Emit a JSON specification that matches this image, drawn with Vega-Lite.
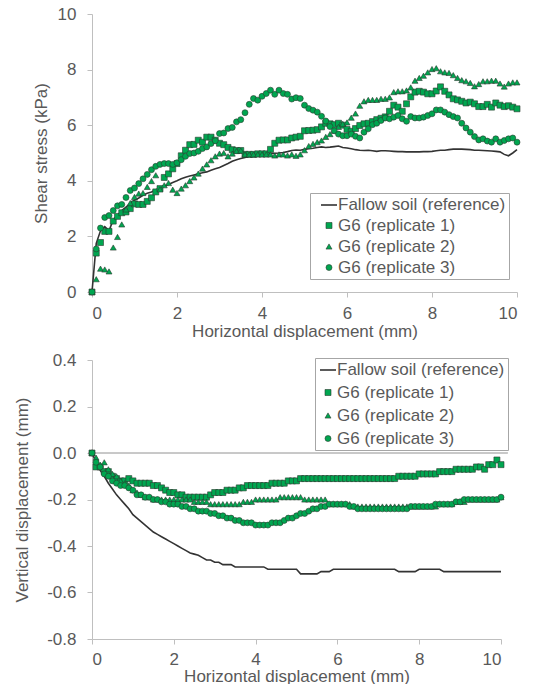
{
  "$schema": "https://vega.github.io/schema/vega-lite/v6.json",
  "padding": {"left": 13, "top": 5, "right": 0, "bottom": 0},
  "spacing": 12,
  "datasets": {
    "top": [
      {"x":0,"f":0,"a":0,"b":0,"c":0},
      {"x":0.1,"f":1.75,"a":1.4,"b":0.46,"c":1.55},
      {"x":0.2,"f":2.2,"a":1.78,"b":0.84,"c":2.3},
      {"x":0.3,"f":2.35,"a":2.18,"b":0.81,"c":2.68},
      {"x":0.4,"f":2.2,"a":2.18,"b":0.74,"c":2.75},
      {"x":0.5,"f":2.6,"a":2.55,"b":1.6,"c":2.93},
      {"x":0.6,"f":2.75,"a":2.72,"b":1.98,"c":3.1},
      {"x":0.7,"f":2.93,"a":2.85,"b":2.43,"c":3.15},
      {"x":0.8,"f":3.05,"a":2.88,"b":2.97,"c":3.4},
      {"x":0.9,"f":3.2,"a":3.0,"b":3.2,"c":3.65},
      {"x":1.0,"f":3.3,"a":3.17,"b":3.42,"c":3.74},
      {"x":1.1,"f":3.38,"a":3.15,"b":3.54,"c":3.9},
      {"x":1.2,"f":3.48,"a":3.15,"b":3.56,"c":4.07},
      {"x":1.3,"f":3.55,"a":3.26,"b":3.78,"c":4.23},
      {"x":1.4,"f":3.6,"a":3.39,"b":3.99,"c":4.4},
      {"x":1.5,"f":3.68,"a":3.6,"b":4.2,"c":4.52},
      {"x":1.6,"f":3.74,"a":3.72,"b":3.69,"c":4.59},
      {"x":1.7,"f":3.8,"a":4.12,"b":3.84,"c":4.62},
      {"x":1.8,"f":3.87,"a":4.25,"b":3.92,"c":4.62},
      {"x":1.9,"f":3.94,"a":4.43,"b":3.68,"c":4.59},
      {"x":2.0,"f":4.0,"a":4.62,"b":3.56,"c":4.65},
      {"x":2.1,"f":4.07,"a":4.9,"b":3.72,"c":4.76},
      {"x":2.2,"f":4.13,"a":5.1,"b":3.84,"c":4.88},
      {"x":2.3,"f":4.17,"a":5.3,"b":3.99,"c":4.98},
      {"x":2.4,"f":4.21,"a":5.31,"b":4.12,"c":5.0},
      {"x":2.5,"f":4.25,"a":5.46,"b":4.26,"c":5.06},
      {"x":2.6,"f":4.29,"a":5.39,"b":4.44,"c":5.16},
      {"x":2.7,"f":4.32,"a":5.57,"b":4.59,"c":5.22},
      {"x":2.8,"f":4.38,"a":5.57,"b":4.74,"c":5.34},
      {"x":2.9,"f":4.43,"a":5.46,"b":4.88,"c":5.44},
      {"x":3.0,"f":4.48,"a":5.35,"b":4.98,"c":5.7},
      {"x":3.1,"f":4.55,"a":5.3,"b":5.0,"c":5.72},
      {"x":3.2,"f":4.62,"a":5.2,"b":4.88,"c":5.88},
      {"x":3.3,"f":4.7,"a":5.12,"b":4.98,"c":5.92},
      {"x":3.4,"f":4.76,"a":5.09,"b":5.07,"c":6.12},
      {"x":3.5,"f":4.8,"a":5.09,"b":5.09,"c":6.2},
      {"x":3.6,"f":4.84,"a":4.95,"b":4.95,"c":6.45},
      {"x":3.7,"f":4.88,"a":4.95,"b":4.95,"c":6.75},
      {"x":3.8,"f":4.92,"a":4.95,"b":4.95,"c":6.96},
      {"x":3.9,"f":4.94,"a":4.97,"b":4.95,"c":6.9},
      {"x":4.0,"f":4.95,"a":4.97,"b":4.95,"c":7.04},
      {"x":4.1,"f":4.96,"a":4.97,"b":4.95,"c":7.14},
      {"x":4.2,"f":4.98,"a":5.13,"b":4.95,"c":7.26},
      {"x":4.3,"f":4.99,"a":5.35,"b":4.91,"c":7.11},
      {"x":4.4,"f":5.0,"a":5.46,"b":4.95,"c":7.26},
      {"x":4.5,"f":5.02,"a":5.47,"b":4.95,"c":7.14},
      {"x":4.6,"f":5.05,"a":5.47,"b":4.91,"c":7.11},
      {"x":4.7,"f":5.09,"a":5.54,"b":4.95,"c":6.94},
      {"x":4.8,"f":5.11,"a":5.57,"b":4.9,"c":6.99},
      {"x":4.9,"f":5.1,"a":5.6,"b":4.95,"c":6.96},
      {"x":5.0,"f":5.13,"a":5.8,"b":5.1,"c":6.72},
      {"x":5.1,"f":5.15,"a":5.81,"b":5.25,"c":6.6},
      {"x":5.2,"f":5.17,"a":5.82,"b":5.33,"c":6.54},
      {"x":5.3,"f":5.2,"a":5.84,"b":5.39,"c":6.47},
      {"x":5.4,"f":5.22,"a":5.94,"b":5.45,"c":6.32},
      {"x":5.5,"f":5.2,"a":6.07,"b":5.58,"c":6.15},
      {"x":5.6,"f":5.21,"a":6.05,"b":5.68,"c":5.95},
      {"x":5.7,"f":5.23,"a":6.02,"b":5.8,"c":5.8},
      {"x":5.8,"f":5.25,"a":6.07,"b":5.94,"c":5.68},
      {"x":5.9,"f":5.2,"a":6.0,"b":6.05,"c":5.62},
      {"x":6.0,"f":5.18,"a":5.85,"b":6.1,"c":5.62},
      {"x":6.1,"f":5.15,"a":5.78,"b":6.27,"c":5.68},
      {"x":6.2,"f":5.12,"a":5.88,"b":6.42,"c":5.6},
      {"x":6.3,"f":5.1,"a":5.99,"b":6.7,"c":5.54},
      {"x":6.4,"f":5.09,"a":6.05,"b":6.86,"c":5.75},
      {"x":6.5,"f":5.1,"a":6.07,"b":6.91,"c":5.87},
      {"x":6.6,"f":5.08,"a":6.13,"b":6.91,"c":6.02},
      {"x":6.7,"f":5.06,"a":6.2,"b":6.91,"c":6.07},
      {"x":6.8,"f":5.08,"a":6.25,"b":6.95,"c":6.17},
      {"x":6.9,"f":5.08,"a":6.3,"b":6.95,"c":6.26},
      {"x":7.0,"f":5.07,"a":6.5,"b":7.0,"c":6.23},
      {"x":7.1,"f":5.06,"a":6.72,"b":7.19,"c":6.29},
      {"x":7.2,"f":5.05,"a":6.65,"b":7.22,"c":6.35},
      {"x":7.3,"f":5.05,"a":6.5,"b":7.22,"c":6.23},
      {"x":7.4,"f":5.04,"a":6.77,"b":7.25,"c":6.14},
      {"x":7.5,"f":5.04,"a":7.02,"b":7.36,"c":6.31},
      {"x":7.6,"f":5.04,"a":7.19,"b":7.6,"c":6.26},
      {"x":7.7,"f":5.04,"a":7.22,"b":7.7,"c":6.26},
      {"x":7.8,"f":5.05,"a":7.19,"b":7.78,"c":6.29},
      {"x":7.9,"f":5.05,"a":7.13,"b":7.9,"c":6.35},
      {"x":8.0,"f":5.06,"a":7.13,"b":8.02,"c":6.41},
      {"x":8.1,"f":5.08,"a":7.23,"b":8.05,"c":6.55},
      {"x":8.2,"f":5.1,"a":7.38,"b":7.94,"c":6.55},
      {"x":8.3,"f":5.1,"a":7.22,"b":7.9,"c":6.47},
      {"x":8.4,"f":5.12,"a":7.09,"b":7.88,"c":6.38},
      {"x":8.5,"f":5.14,"a":6.95,"b":7.8,"c":6.31},
      {"x":8.6,"f":5.14,"a":6.91,"b":7.7,"c":6.26},
      {"x":8.7,"f":5.14,"a":6.86,"b":7.62,"c":6.07},
      {"x":8.8,"f":5.13,"a":6.8,"b":7.58,"c":5.9},
      {"x":8.9,"f":5.12,"a":6.83,"b":7.52,"c":5.75},
      {"x":9.0,"f":5.1,"a":6.77,"b":7.4,"c":5.59},
      {"x":9.1,"f":5.1,"a":6.67,"b":7.48,"c":5.47},
      {"x":9.2,"f":5.09,"a":6.67,"b":7.58,"c":5.51},
      {"x":9.3,"f":5.08,"a":6.75,"b":7.58,"c":5.43},
      {"x":9.4,"f":5.07,"a":6.65,"b":7.6,"c":5.39},
      {"x":9.5,"f":5.06,"a":6.8,"b":7.6,"c":5.51},
      {"x":9.6,"f":5.04,"a":6.72,"b":7.5,"c":5.39},
      {"x":9.7,"f":4.95,"a":6.67,"b":7.39,"c":5.45},
      {"x":9.8,"f":4.9,"a":6.7,"b":7.5,"c":5.51},
      {"x":9.9,"f":5.0,"a":6.65,"b":7.54,"c":5.54},
      {"x":10,"f":5.12,"a":6.59,"b":7.54,"c":5.39}
    ],
    "bottom": [
      {"x":0,"f":0,"a":0,"b":0,"c":0},
      {"x":0.1,"f":-0.04,"a":-0.06,"b":-0.02,"c":-0.04},
      {"x":0.2,"f":-0.075,"a":-0.06,"b":-0.05,"c":-0.06},
      {"x":0.3,"f":-0.1,"a":-0.08,"b":-0.04,"c":-0.09},
      {"x":0.4,"f":-0.13,"a":-0.08,"b":-0.07,"c":-0.1},
      {"x":0.5,"f":-0.155,"a":-0.1,"b":-0.09,"c":-0.12},
      {"x":0.6,"f":-0.18,"a":-0.11,"b":-0.1,"c":-0.13},
      {"x":0.7,"f":-0.2,"a":-0.12,"b":-0.12,"c":-0.14},
      {"x":0.8,"f":-0.22,"a":-0.12,"b":-0.13,"c":-0.14},
      {"x":0.9,"f":-0.24,"a":-0.11,"b":-0.14,"c":-0.15},
      {"x":1.0,"f":-0.265,"a":-0.12,"b":-0.16,"c":-0.16},
      {"x":1.1,"f":-0.28,"a":-0.13,"b":-0.17,"c":-0.18},
      {"x":1.2,"f":-0.295,"a":-0.13,"b":-0.18,"c":-0.18},
      {"x":1.3,"f":-0.31,"a":-0.13,"b":-0.19,"c":-0.19},
      {"x":1.4,"f":-0.325,"a":-0.13,"b":-0.19,"c":-0.19},
      {"x":1.5,"f":-0.34,"a":-0.14,"b":-0.2,"c":-0.2},
      {"x":1.6,"f":-0.35,"a":-0.14,"b":-0.2,"c":-0.2},
      {"x":1.7,"f":-0.36,"a":-0.15,"b":-0.2,"c":-0.21},
      {"x":1.8,"f":-0.37,"a":-0.16,"b":-0.2,"c":-0.21},
      {"x":1.9,"f":-0.38,"a":-0.17,"b":-0.2,"c":-0.22},
      {"x":2.0,"f":-0.39,"a":-0.17,"b":-0.2,"c":-0.22},
      {"x":2.1,"f":-0.4,"a":-0.18,"b":-0.2,"c":-0.22},
      {"x":2.2,"f":-0.41,"a":-0.18,"b":-0.2,"c":-0.23},
      {"x":2.3,"f":-0.42,"a":-0.19,"b":-0.2,"c":-0.23},
      {"x":2.4,"f":-0.43,"a":-0.19,"b":-0.2,"c":-0.24},
      {"x":2.5,"f":-0.435,"a":-0.19,"b":-0.21,"c":-0.24},
      {"x":2.6,"f":-0.44,"a":-0.19,"b":-0.21,"c":-0.25},
      {"x":2.7,"f":-0.45,"a":-0.19,"b":-0.21,"c":-0.25},
      {"x":2.8,"f":-0.46,"a":-0.19,"b":-0.21,"c":-0.25},
      {"x":2.9,"f":-0.46,"a":-0.18,"b":-0.22,"c":-0.26},
      {"x":3.0,"f":-0.47,"a":-0.17,"b":-0.22,"c":-0.26},
      {"x":3.1,"f":-0.47,"a":-0.17,"b":-0.22,"c":-0.27},
      {"x":3.2,"f":-0.48,"a":-0.17,"b":-0.22,"c":-0.27},
      {"x":3.3,"f":-0.48,"a":-0.16,"b":-0.22,"c":-0.28},
      {"x":3.4,"f":-0.48,"a":-0.16,"b":-0.22,"c":-0.28},
      {"x":3.5,"f":-0.49,"a":-0.16,"b":-0.22,"c":-0.29},
      {"x":3.6,"f":-0.49,"a":-0.15,"b":-0.22,"c":-0.29},
      {"x":3.7,"f":-0.49,"a":-0.15,"b":-0.21,"c":-0.3},
      {"x":3.8,"f":-0.49,"a":-0.14,"b":-0.21,"c":-0.3},
      {"x":3.9,"f":-0.49,"a":-0.14,"b":-0.21,"c":-0.3},
      {"x":4.0,"f":-0.49,"a":-0.14,"b":-0.2,"c":-0.31},
      {"x":4.1,"f":-0.49,"a":-0.14,"b":-0.2,"c":-0.31},
      {"x":4.2,"f":-0.49,"a":-0.14,"b":-0.2,"c":-0.31},
      {"x":4.3,"f":-0.5,"a":-0.14,"b":-0.2,"c":-0.31},
      {"x":4.4,"f":-0.5,"a":-0.13,"b":-0.2,"c":-0.3},
      {"x":4.5,"f":-0.5,"a":-0.13,"b":-0.2,"c":-0.3},
      {"x":4.6,"f":-0.5,"a":-0.13,"b":-0.19,"c":-0.3},
      {"x":4.7,"f":-0.5,"a":-0.13,"b":-0.19,"c":-0.29},
      {"x":4.8,"f":-0.5,"a":-0.12,"b":-0.19,"c":-0.28},
      {"x":4.9,"f":-0.5,"a":-0.12,"b":-0.19,"c":-0.28},
      {"x":5.0,"f":-0.5,"a":-0.12,"b":-0.19,"c":-0.27},
      {"x":5.1,"f":-0.52,"a":-0.11,"b":-0.19,"c":-0.26},
      {"x":5.2,"f":-0.52,"a":-0.11,"b":-0.2,"c":-0.26},
      {"x":5.3,"f":-0.52,"a":-0.11,"b":-0.2,"c":-0.25},
      {"x":5.4,"f":-0.52,"a":-0.11,"b":-0.2,"c":-0.24},
      {"x":5.5,"f":-0.52,"a":-0.11,"b":-0.2,"c":-0.24},
      {"x":5.6,"f":-0.51,"a":-0.11,"b":-0.2,"c":-0.23},
      {"x":5.7,"f":-0.51,"a":-0.11,"b":-0.2,"c":-0.23},
      {"x":5.8,"f":-0.51,"a":-0.11,"b":-0.22,"c":-0.22},
      {"x":5.9,"f":-0.5,"a":-0.11,"b":-0.22,"c":-0.22},
      {"x":6.0,"f":-0.5,"a":-0.11,"b":-0.22,"c":-0.22},
      {"x":6.1,"f":-0.5,"a":-0.11,"b":-0.22,"c":-0.22},
      {"x":6.2,"f":-0.5,"a":-0.11,"b":-0.22,"c":-0.22},
      {"x":6.3,"f":-0.5,"a":-0.11,"b":-0.22,"c":-0.23},
      {"x":6.4,"f":-0.5,"a":-0.11,"b":-0.23,"c":-0.23},
      {"x":6.5,"f":-0.5,"a":-0.11,"b":-0.23,"c":-0.24},
      {"x":6.6,"f":-0.5,"a":-0.11,"b":-0.23,"c":-0.24},
      {"x":6.7,"f":-0.5,"a":-0.11,"b":-0.23,"c":-0.24},
      {"x":6.8,"f":-0.5,"a":-0.11,"b":-0.23,"c":-0.24},
      {"x":6.9,"f":-0.5,"a":-0.11,"b":-0.23,"c":-0.24},
      {"x":7.0,"f":-0.5,"a":-0.11,"b":-0.23,"c":-0.24},
      {"x":7.1,"f":-0.5,"a":-0.11,"b":-0.23,"c":-0.24},
      {"x":7.2,"f":-0.5,"a":-0.11,"b":-0.23,"c":-0.24},
      {"x":7.3,"f":-0.5,"a":-0.11,"b":-0.23,"c":-0.24},
      {"x":7.4,"f":-0.5,"a":-0.11,"b":-0.23,"c":-0.24},
      {"x":7.5,"f":-0.51,"a":-0.1,"b":-0.23,"c":-0.24},
      {"x":7.6,"f":-0.51,"a":-0.1,"b":-0.23,"c":-0.24},
      {"x":7.7,"f":-0.51,"a":-0.1,"b":-0.23,"c":-0.24},
      {"x":7.8,"f":-0.51,"a":-0.1,"b":-0.23,"c":-0.23},
      {"x":7.9,"f":-0.51,"a":-0.1,"b":-0.23,"c":-0.23},
      {"x":8.0,"f":-0.5,"a":-0.09,"b":-0.23,"c":-0.23},
      {"x":8.1,"f":-0.5,"a":-0.09,"b":-0.23,"c":-0.23},
      {"x":8.2,"f":-0.5,"a":-0.09,"b":-0.23,"c":-0.23},
      {"x":8.3,"f":-0.5,"a":-0.09,"b":-0.23,"c":-0.23},
      {"x":8.4,"f":-0.5,"a":-0.09,"b":-0.23,"c":-0.22},
      {"x":8.5,"f":-0.5,"a":-0.08,"b":-0.22,"c":-0.22},
      {"x":8.6,"f":-0.51,"a":-0.08,"b":-0.22,"c":-0.22},
      {"x":8.7,"f":-0.51,"a":-0.08,"b":-0.22,"c":-0.22},
      {"x":8.8,"f":-0.51,"a":-0.08,"b":-0.22,"c":-0.22},
      {"x":8.9,"f":-0.51,"a":-0.07,"b":-0.21,"c":-0.21},
      {"x":9.0,"f":-0.51,"a":-0.07,"b":-0.21,"c":-0.21},
      {"x":9.1,"f":-0.51,"a":-0.07,"b":-0.21,"c":-0.2},
      {"x":9.2,"f":-0.51,"a":-0.07,"b":-0.2,"c":-0.2},
      {"x":9.3,"f":-0.51,"a":-0.07,"b":-0.2,"c":-0.2},
      {"x":9.4,"f":-0.51,"a":-0.06,"b":-0.2,"c":-0.2},
      {"x":9.5,"f":-0.51,"a":-0.06,"b":-0.2,"c":-0.2},
      {"x":9.6,"f":-0.51,"a":-0.07,"b":-0.2,"c":-0.2},
      {"x":9.7,"f":-0.51,"a":-0.05,"b":-0.2,"c":-0.2},
      {"x":9.8,"f":-0.51,"a":-0.05,"b":-0.2,"c":-0.2},
      {"x":9.9,"f":-0.51,"a":-0.03,"b":-0.2,"c":-0.2},
      {"x":10,"f":-0.51,"a":-0.05,"b":-0.19,"c":-0.19}
    ]
  },
  "vconcat": [
    {
      "width": 425,
      "height": 278,
      "data": {"name": "top"},
      "transform": [{"fold": ["f", "a", "b", "c"], "as": ["s", "v"]}],
      "encoding": {
        "x": {"field": "x", "type": "quantitative", "scale": {"domain": [0, 10], "nice": false}, "axis": {"values": [0, 2, 4, 6, 8, 10], "title": "Horizontal displacement (mm)", "titlePadding": 2}},
        "y": {"field": "v", "type": "quantitative", "scale": {"domain": [0, 10], "nice": false}, "axis": {"values": [0, 2, 4, 6, 8, 10], "title": "Shear stress (kPa)", "titlePadding": 7}}
      },
      "layer": [
        {
          "transform": [{"filter": "datum.s == 'f'"}],
          "mark": {"type": "line", "color": "#333333", "strokeWidth": 1.6},
          "encoding": {}
        },
        {
          "transform": [{"filter": "datum.s != 'f'"}],
          "mark": {"type": "point", "filled": true, "opacity": 1},
          "encoding": {
            "shape": {"field": "s", "type": "nominal", "scale": {"domain": ["f", "a", "b", "c"], "range": ["stroke", "square", "triangle-up", "circle"]},
              "legend": {"title": null, "orient": "none", "legendX": 218, "legendY": 179, "rowPadding": 3, "padding": 3, "symbolOffset": 7, "labelOffset": 0, "labelLimit": 400, "labelExpr": "datum.label == 'f' ? 'Fallow soil (reference)' : datum.label == 'a' ? 'G6 (replicate 1)' : datum.label == 'b' ? 'G6 (replicate 2)' : 'G6 (replicate 3)'"}},
            "fill": {"field": "s", "type": "nominal", "scale": {"domain": ["f", "a", "b", "c"], "range": ["transparent", "#00a650", "#00a650", "#00a650"]},
              "legend": {"title": null, "orient": "none", "legendX": 218, "legendY": 179, "rowPadding": 3, "padding": 3, "symbolOffset": 7, "labelOffset": 0, "labelLimit": 400, "labelExpr": "datum.label == 'f' ? 'Fallow soil (reference)' : datum.label == 'a' ? 'G6 (replicate 1)' : datum.label == 'b' ? 'G6 (replicate 2)' : 'G6 (replicate 3)'"}},
            "stroke": {"field": "s", "type": "nominal", "scale": {"domain": ["f", "a", "b", "c"], "range": ["#333333", "#2a3a2f", "#2a3a2f", "#2a3a2f"]},
              "legend": {"title": null, "orient": "none", "legendX": 218, "legendY": 179, "rowPadding": 3, "padding": 3, "symbolOffset": 7, "labelOffset": 0, "labelLimit": 400, "labelExpr": "datum.label == 'f' ? 'Fallow soil (reference)' : datum.label == 'a' ? 'G6 (replicate 1)' : datum.label == 'b' ? 'G6 (replicate 2)' : 'G6 (replicate 3)'"}},
            "strokeWidth": {"field": "s", "type": "nominal", "scale": {"type": "ordinal", "domain": ["f", "a", "b", "c"], "range": [1.6, 0.6, 0.6, 0.6]},
              "legend": {"title": null, "orient": "none", "legendX": 218, "legendY": 179, "rowPadding": 3, "padding": 3, "symbolOffset": 7, "labelOffset": 0, "labelLimit": 400, "labelExpr": "datum.label == 'f' ? 'Fallow soil (reference)' : datum.label == 'a' ? 'G6 (replicate 1)' : datum.label == 'b' ? 'G6 (replicate 2)' : 'G6 (replicate 3)'"}},
            "size": {"field": "s", "type": "nominal", "scale": {"type": "ordinal", "domain": ["f", "a", "b", "c"], "range": [256, 36, 36, 36]},
              "legend": {"title": null, "orient": "none", "legendX": 218, "legendY": 179, "rowPadding": 3, "padding": 3, "symbolOffset": 7, "labelOffset": 0, "labelLimit": 400, "labelExpr": "datum.label == 'f' ? 'Fallow soil (reference)' : datum.label == 'a' ? 'G6 (replicate 1)' : datum.label == 'b' ? 'G6 (replicate 2)' : 'G6 (replicate 3)'"}},
            "order": {"field": "s", "type": "nominal"}
          }
        }
      ]
    },
    {
      "width": 409,
      "height": 279,
      "data": {"name": "bottom"},
      "transform": [{"fold": ["f", "a", "b", "c"], "as": ["s", "v"]}],
      "encoding": {
        "x": {"field": "x", "type": "quantitative", "scale": {"domain": [0, 10], "nice": false}, "axis": {"values": [0, 2, 4, 6, 8, 10], "title": "Horizontal displacement (mm)", "titlePadding": 1, "labelPadding": 7}},
        "y": {"field": "v", "type": "quantitative", "scale": {"domain": [-0.8, 0.4], "nice": false}, "axis": {"values": [-0.8, -0.6, -0.4, -0.2, 0, 0.2, 0.4], "title": "Vertical displacement (mm)", "titlePadding": 15, "labelExpr": "replace(replace(format(datum.value, '.1f'), '\u2212', '-'), '\u2212', '-')"}}
      },
      "layer": [
        {
          "mark": {"type": "rule", "color": "#c8c8c8", "strokeWidth": 1},
          "encoding": {"x": {"datum": 0}, "x2": {"datum": 10.15}, "y": {"datum": 0}}
        },
        {
          "transform": [{"filter": "datum.s == 'f'"}],
          "mark": {"type": "line", "color": "#333333", "strokeWidth": 1.6},
          "encoding": {}
        },
        {
          "transform": [{"filter": "datum.s != 'f'"}],
          "mark": {"type": "point", "filled": true, "opacity": 1},
          "encoding": {
            "shape": {"field": "s", "type": "nominal", "scale": {"domain": ["f", "a", "b", "c"], "range": ["stroke", "square", "triangle-up", "circle"]},
              "legend": {"title": null, "orient": "none", "legendX": 223, "legendY": -2, "rowPadding": 5, "padding": 3, "symbolOffset": 1, "labelOffset": 0, "labelLimit": 400, "labelExpr": "datum.label == 'f' ? 'Fallow soil (reference)' : datum.label == 'a' ? 'G6 (replicate 1)' : datum.label == 'b' ? 'G6 (replicate 2)' : 'G6 (replicate 3)'"}},
            "fill": {"field": "s", "type": "nominal", "scale": {"domain": ["f", "a", "b", "c"], "range": ["transparent", "#00a650", "#00a650", "#00a650"]},
              "legend": {"title": null, "orient": "none", "legendX": 223, "legendY": -2, "rowPadding": 5, "padding": 3, "symbolOffset": 1, "labelOffset": 0, "labelLimit": 400, "labelExpr": "datum.label == 'f' ? 'Fallow soil (reference)' : datum.label == 'a' ? 'G6 (replicate 1)' : datum.label == 'b' ? 'G6 (replicate 2)' : 'G6 (replicate 3)'"}},
            "stroke": {"field": "s", "type": "nominal", "scale": {"domain": ["f", "a", "b", "c"], "range": ["#333333", "#2a3a2f", "#2a3a2f", "#2a3a2f"]},
              "legend": {"title": null, "orient": "none", "legendX": 223, "legendY": -2, "rowPadding": 5, "padding": 3, "symbolOffset": 1, "labelOffset": 0, "labelLimit": 400, "labelExpr": "datum.label == 'f' ? 'Fallow soil (reference)' : datum.label == 'a' ? 'G6 (replicate 1)' : datum.label == 'b' ? 'G6 (replicate 2)' : 'G6 (replicate 3)'"}},
            "strokeWidth": {"field": "s", "type": "nominal", "scale": {"type": "ordinal", "domain": ["f", "a", "b", "c"], "range": [1.6, 0.6, 0.6, 0.6]},
              "legend": {"title": null, "orient": "none", "legendX": 223, "legendY": -2, "rowPadding": 5, "padding": 3, "symbolOffset": 1, "labelOffset": 0, "labelLimit": 400, "labelExpr": "datum.label == 'f' ? 'Fallow soil (reference)' : datum.label == 'a' ? 'G6 (replicate 1)' : datum.label == 'b' ? 'G6 (replicate 2)' : 'G6 (replicate 3)'"}},
            "size": {"field": "s", "type": "nominal", "scale": {"type": "ordinal", "domain": ["f", "a", "b", "c"], "range": [256, 36, 36, 36]},
              "legend": {"title": null, "orient": "none", "legendX": 223, "legendY": -2, "rowPadding": 5, "padding": 3, "symbolOffset": 1, "labelOffset": 0, "labelLimit": 400, "labelExpr": "datum.label == 'f' ? 'Fallow soil (reference)' : datum.label == 'a' ? 'G6 (replicate 1)' : datum.label == 'b' ? 'G6 (replicate 2)' : 'G6 (replicate 3)'"}},
            "order": {"field": "s", "type": "nominal"}
          }
        }
      ]
    }
  ],
  "resolve": {
    "scale": {"shape": "independent", "fill": "independent", "stroke": "independent", "strokeWidth": "independent", "size": "independent"},
    "legend": {"shape": "independent", "fill": "independent", "stroke": "independent", "strokeWidth": "independent", "size": "independent"}
  },
  "config": {
    "font": "Liberation Sans",
    "view": {"stroke": null},
    "axis": {"grid": false, "domainColor": "#bfbfbf", "tickColor": "#bfbfbf", "tickSize": 5, "labelFontSize": 17, "labelColor": "#595959", "titleFontSize": 17, "titleColor": "#595959", "titleFontWeight": "normal", "labelFont": "Liberation Sans", "titleFont": "Liberation Sans"},
    "axisX": {"labelPadding": 8},
    "axisY": {"labelPadding": 11},
    "legend": {"labelFontSize": 17, "labelColor": "#595959", "labelFont": "Liberation Sans", "strokeColor": "#a6a6a6", "fillColor": "white"}
  }
}
